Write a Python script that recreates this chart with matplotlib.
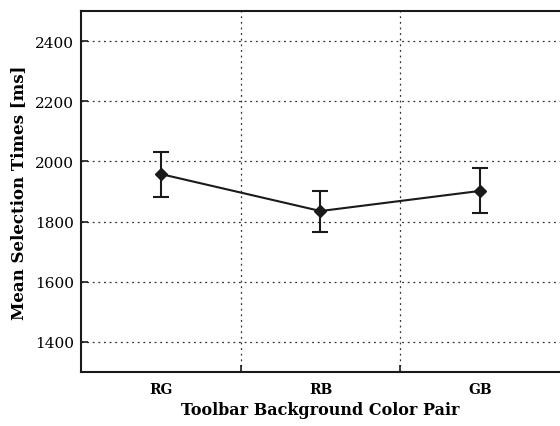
import matplotlib
matplotlib.use("Agg")
import matplotlib.pyplot as plt
import numpy as np

categories = ["RG", "RB", "GB"]
means = [1958, 1835, 1902]
err_upper = [2032, 1902, 1978]
err_lower = [1882, 1765, 1828]
yticks = [1400, 1600, 1800, 2000, 2200, 2400]

plt.rcParams['font.family'] = ['DejaVu Serif']

fig = plt.figure(figsize=(5.6, 4.27), dpi=100)
ax = fig.add_axes([0.1446, 0.1265, 0.8554, 0.8454])

x = np.arange(len(categories))
m = np.array(means)
yerr = np.vstack([m - np.array(err_lower), np.array(err_upper) - m])
ax.errorbar(x, m, yerr=yerr, color='#1a1a1a', lw=1.5, marker='D', markersize=6,
            capsize=6, capthick=1.5, elinewidth=1.5, zorder=3)

ax.set_xlim(-0.5, 2.5)
ax.set_ylim(1300, 2500)
ax.set_yticks(yticks)
ax.set_xticks(x)
ax.set_xticklabels(categories, fontweight='bold', fontsize=10)
ax.set_xticks([0.5, 1.5], minor=True)
ax.tick_params(axis='x', which='major', length=0, pad=7)
ax.tick_params(axis='x', which='minor', direction='in', length=5, width=1.2, color='#1a1a1a')
ax.tick_params(axis='y', direction='in', length=5, width=1.2, labelsize=11, color='#1a1a1a', pad=5)

ax.grid(True, axis='y', which='major', linestyle=(0, (1.5, 3)), color='#333333', lw=0.9)
ax.grid(True, axis='x', which='minor', linestyle=(0, (1.5, 3)), color='#333333', lw=0.9)

for s in ['left', 'bottom', 'top']:
    ax.spines[s].set_linewidth(1.5)
    ax.spines[s].set_color('#1a1a1a')
ax.spines['right'].set_visible(False)

ax.set_xlabel("Toolbar Background Color Pair", fontweight='bold', fontsize=11.5, labelpad=4)
ax.set_ylabel("Mean Selection Times [ms]", fontweight='bold', fontsize=12, labelpad=6)

fig.savefig("out.png", dpi=100)
